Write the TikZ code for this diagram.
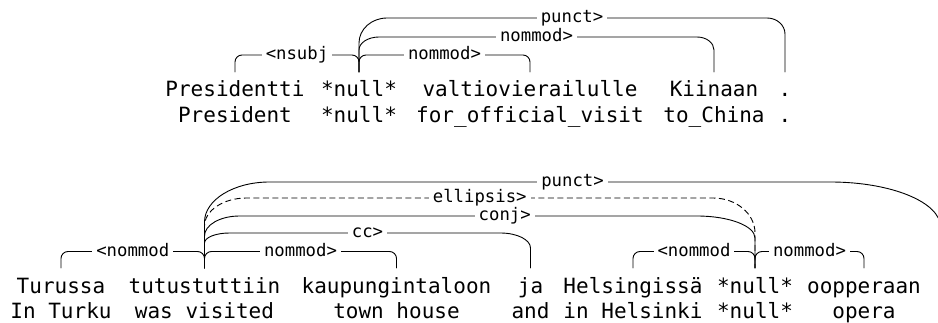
\documentclass[tikz,border=0pt]{standalone}
\usepackage{fontspec}
\setmonofont{DejaVu Sans Mono}
\usetikzlibrary{calc}

\newcommand\wordfont{\fontsize{21}{21}\selectfont\ttfamily}
\newcommand\lblfont{\fontsize{17.3}{17.3}\selectfont\ttfamily}

% \deparc[opts]{head}{dependent}{level}{rx head}{ry head}{rx dep}{ry dep}{label}
\newcommand\deparc[9][]{%
  \def\lshift{0}%
  \draw[link,#1] let \p1=(#2), \p2=(#3), \n1={sign(\x2-\x1)} in
    (\p1) -- (\x1,#4-#6)
    .. controls (\x1,#4-0.448*#6) and (\x1+\n1*0.448*#5,#4) .. (\x1+\n1*#5,#4)
    -- (\x2-\n1*#7,#4)
    .. controls (\x2-\n1*0.448*#7,#4) and (\x2,#4-0.448*#8) .. (\x2,#4-#8)
    -- (\p2)
    node[lbl,solid] at ({(\x1+\x2)/2+\lshift},#4-4.7) {#9};%
}

\begin{document}
\begin{tikzpicture}[x=1pt,y=1pt,
  word/.style={anchor=base, inner sep=0pt, font=\wordfont},
  lbl/.style={anchor=base, fill=white, inner xsep=4pt, inner ysep=0pt, font=\lblfont},
  link/.style={line width=0.9pt, line cap=round},
  elided/.style={dash pattern=on 6pt off 3.5pt, line cap=butt},
  lshift/.store in=\lshift]
\useasboundingbox (0,0) rectangle (938,322);
\clip (0,0) rectangle (938,322);

% ---- first sentence: words and glosses
\node[word] (tp) at (235,225.3) {Presidentti};
\node[word] (tn) at (359,225.3) {*null*};
\node[word] (tv) at (530,225.3) {valtiovierailulle};
\node[word] (tk) at (714,225.3) {Kiinaan};
\node[word] (td) at (785,225.3) {.};
\node[word] at (235,199.7) {President};
\node[word] at (359,199.7) {*null*};
\node[word] at (530,199.7) {for\_official\_visit};
\node[word] at (714,199.7) {to\_China};
\node[word] at (785,199.7) {.};
\foreach \w in {tp,tn,tv,tk,td} \path (\w.base) ++(0,24.7) coordinate (\w s);

% ---- first sentence: dependencies
\deparc{tns}{tps}{267}{7}{7}{7}{7}{<nsubj}
\deparc{tns}{tvs}{267}{7}{7}{7}{7}{nommod>}
\deparc{tns}{tks}{285}{20}{13}{17}{13}{nommod>}
\deparc{tns}{tds}{304}{28}{25}{18}{16}{punct>}

% ---- second sentence: words and glosses
\node[word] (bu) at (61,29) {Turussa};
\node[word] (bt) at (204.5,29) {tutustuttiin};
\node[word] (bk) at (396.5,29) {kaupungintaloon};
\node[word] (bj) at (530.5,29) {ja};
\node[word] (bh) at (633,29) {Helsingissä};
\node[word] (bn) at (755,29) {*null*};
\node[word] (bo) at (864,29) {oopperaan};
\node[word] at (61,3.7) {In Turku};
\node[word] at (204.5,3.7) {was visited};
\node[word] at (396.5,3.7) {town house};
\node[word] at (530.5,3.7) {and};
\node[word] at (633,3.7) {in Helsinki};
\node[word] at (755,3.7) {*null*};
\node[word] at (864,3.7) {opera};
\foreach \w in {bu,bt,bk,bj,bh,bn,bo} \path (\w.base) ++(0,25) coordinate (\w s);
\coordinate (bds) at (940.5,54);

% ---- second sentence: dependencies
\deparc{bts}{bus}{70.5}{7}{7}{7}{7}{<nommod}
\deparc{bts}{bks}{70.5}{7}{7}{7}{7}{nommod>}
\deparc{bts}{bjs}{89}{25}{10}{30}{15}{cc>}
\deparc[lshift=25]{bts}{bns}{106}{35}{20}{58}{22}{conj>}
\deparc[elided]{bts}{bns}{124}{42}{28}{42}{35}{ellipsis>}
\deparc{bts}{bds}{140}{65}{40}{110}{45}{punct>}
\deparc{bns}{bhs}{70.5}{7}{7}{7}{7}{<nommod}
\deparc{bns}{bos}{70.5}{7}{7}{7}{7}{nommod>}
\end{tikzpicture}
\end{document}
